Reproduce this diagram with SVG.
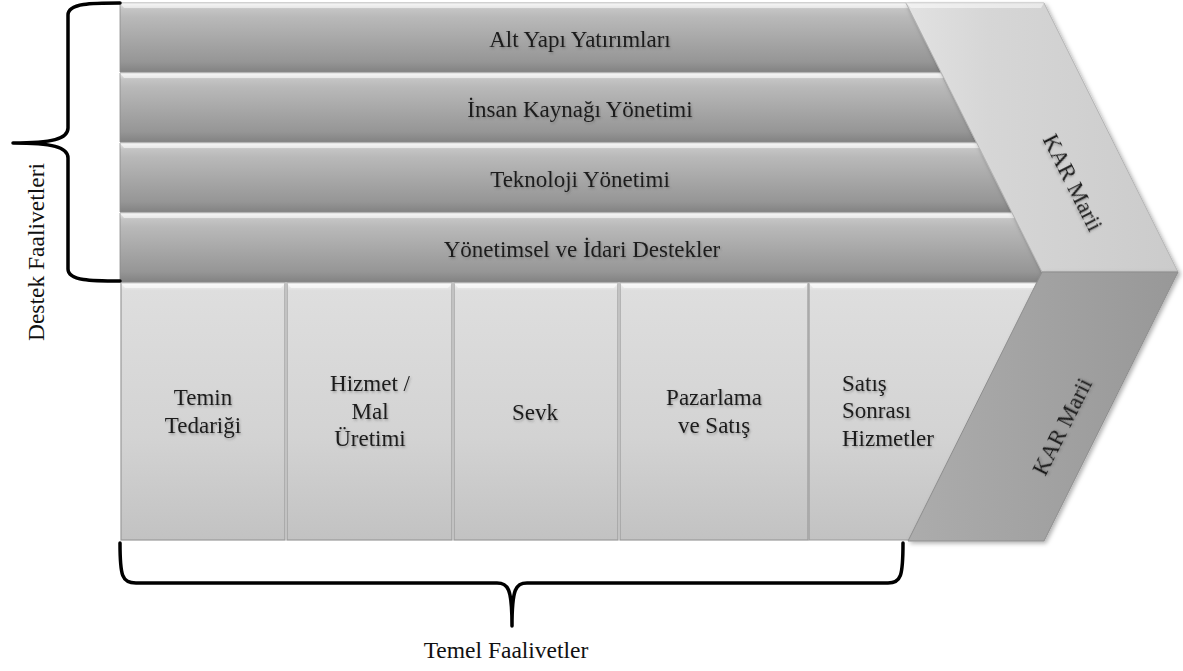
<svg xmlns="http://www.w3.org/2000/svg" width="1183" height="671" viewBox="0 0 1183 671">
<defs>
<linearGradient id="gBand" x1="0" y1="0" x2="0" y2="1">
<stop offset="0" stop-color="#ececec"/>
<stop offset="0.09" stop-color="#c4c4c4"/>
<stop offset="0.2" stop-color="#b9b9b9"/>
<stop offset="0.85" stop-color="#969696"/>
<stop offset="1" stop-color="#828282"/>
</linearGradient>
<linearGradient id="gBox" x1="0" y1="0" x2="0" y2="1">
<stop offset="0" stop-color="#f6f6f6"/>
<stop offset="0.03" stop-color="#dedede"/>
<stop offset="0.6" stop-color="#d3d3d3"/>
<stop offset="1" stop-color="#c2c2c2"/>
</linearGradient>
<linearGradient id="gUp" x1="0" y1="0" x2="1" y2="0">
<stop offset="0" stop-color="#e2e2e2"/>
<stop offset="0.3" stop-color="#d6d6d6"/>
<stop offset="1" stop-color="#cbcbcb"/>
</linearGradient>
<linearGradient id="gLow" x1="0" y1="0" x2="1" y2="0">
<stop offset="0" stop-color="#acacac"/>
<stop offset="1" stop-color="#989898"/>
</linearGradient>
<filter id="ts" x="-10%" y="-30%" width="120%" height="160%">
<feDropShadow dx="1" dy="1.5" stdDeviation="1.2" flood-color="#555" flood-opacity="0.45"/>
</filter>
<filter id="sh" x="-10%" y="-10%" width="120%" height="120%">
<feDropShadow dx="2" dy="2" stdDeviation="2" flood-color="#000" flood-opacity="0.3"/>
</filter>
<style>
.band{fill:url(#gBand);stroke:#8a8a8a;stroke-width:0.8}
.box{fill:url(#gBox);stroke:#9a9a9a;stroke-width:1.2}
.hl{fill:#ffffff;opacity:0.55}
.t{font-family:"Liberation Serif","Times New Roman",serif;font-size:23px;fill:#1a1a1a;text-anchor:middle;filter:url(#ts)}
.ts{text-anchor:start}
.lbl{font-family:"Liberation Serif","Times New Roman",serif;font-size:23.5px;fill:#111;text-anchor:middle}
.brace{fill:none;stroke:#000;stroke-width:3.5;stroke-linejoin:round;stroke-linecap:round}
</style>
</defs>
<rect width="1183" height="671" fill="#ffffff"/>

<g id="band1">
<polygon class="band" points="120,3 906,3 941,72 120,72"/>
<polygon class="hl" points="120,3 906,3 909,8 124,8"/>
<text class="t" x="580" y="47">Alt Yapı Yatırımları</text>
</g>
<g id="band2">
<polygon class="band" points="120,73 941,73 976,142 120,142"/>
<polygon class="hl" points="120,73 941,73 944,78 124,78"/>
<text class="t" x="580" y="117">İnsan Kaynağı Yönetimi</text>
</g>
<g id="band3">
<polygon class="band" points="120,143 977,143 1012,212 120,212"/>
<polygon class="hl" points="120,143 977,143 980,148 124,148"/>
<text class="t" x="580" y="187">Teknoloji Yönetimi</text>
</g>
<g id="band4">
<polygon class="band" points="120,213 1012,213 1047,282 120,282"/>
<polygon class="hl" points="120,213 1012,213 1015,218 124,218"/>
<text class="t" x="582" y="257">Yönetimsel ve İdari Destekler</text>
</g>

<g id="box1">
<rect class="box" x="121" y="283" width="164" height="257"/>
<polygon class="hl" points="121,283 285,283 281,288 125,288"/>
<text class="t" x="203" y="405">Temin</text>
<text class="t" x="203" y="433">Tedariği</text>
</g>
<g id="box2">
<rect class="box" x="287" y="283" width="165" height="257"/>
<polygon class="hl" points="287,283 452,283 448,288 291,288"/>
<text class="t" x="370" y="391">Hizmet /</text>
<text class="t" x="370" y="419">Mal</text>
<text class="t" x="370" y="446">Üretimi</text>
</g>
<g id="box3">
<rect class="box" x="454" y="283" width="164" height="257"/>
<polygon class="hl" points="454,283 618,283 614,288 458,288"/>
<text class="t" x="535" y="420">Sevk</text>
</g>
<g id="box4">
<rect class="box" x="620" y="283" width="188" height="257"/>
<polygon class="hl" points="620,283 808,283 804,288 624,288"/>
<text class="t" x="714" y="405">Pazarlama</text>
<text class="t" x="714" y="433">ve Satış</text>
</g>
<g id="box5">
<polygon class="box" points="809,283 1040,283 910,540 809,540"/>
<polygon class="hl" points="809,283 1040,283 1037,288 813,288"/>
<text class="t ts" x="842" y="391">Satış</text>
<text class="t ts" x="842" y="418">Sonrası</text>
<text class="t ts" x="842" y="446">Hizmetler</text>
</g>

<g id="chevron-upper">
<polygon points="906,3 1044,3 1178,272 1042,272" fill="url(#gUp)" stroke="#b5b5b5" stroke-width="1" filter="url(#sh)"/>
<polygon points="906,3 1044,3 1041,8 911,8" fill="#ffffff" opacity="0.5"/>
<text class="t" transform="translate(1066,186) rotate(63.2)" x="0" y="0">KAR Marii</text>
</g>
<g id="chevron-lower">
<polygon points="1042,272 1178,272 1044,541 908,541" fill="url(#gLow)" stroke="#8e8e8e" stroke-width="1" filter="url(#sh)"/>
<text class="t" transform="translate(1069,430) rotate(-63.2)" x="0" y="0">KAR Marii</text>
</g>

<g id="connectors">
<path class="brace" d="M120,3 C92,3 68,3 68,15 L68,128 C68,139 52,143 13,143 C52,143 68,147 68,158 L68,269 C68,281 92,281 120,281"/>
<path class="brace" d="M120,543 C120,576 122,583 136,583 L497,583 C508,583 512,588 512,626 C512,588 516,583 527,583 L888,583 C901,583 903,576 903,543"/>
</g>

<g id="label-destek">
<text class="lbl" transform="translate(44,252) rotate(-90)" x="0" y="0">Destek Faalivetleri</text>
</g>
<g id="label-temel">
<text class="lbl" x="506" y="658">Temel Faalivetler</text>
</g>
</svg>
